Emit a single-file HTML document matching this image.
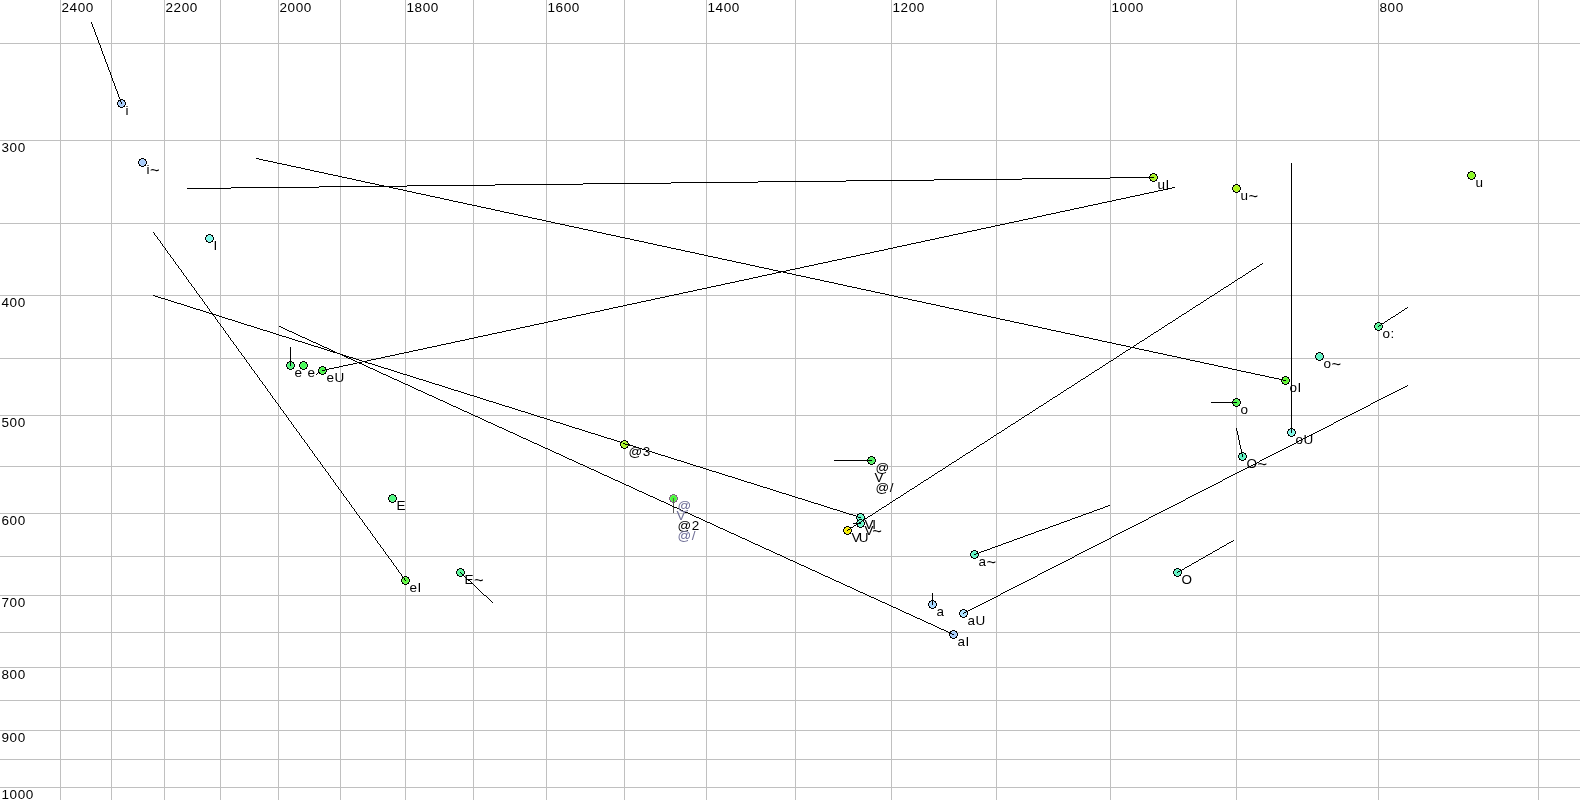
<!DOCTYPE html>
<html><head><meta charset="utf-8"><style>html,body{margin:0;padding:0;background:#fff;overflow:hidden}svg{display:block;position:absolute;left:0;top:0}#t{will-change:transform}</style></head>
<body>
<svg width="1580" height="800" viewBox="0 0 1580 800">
<rect width="1580" height="800" fill="#fff"/>
<path d="M60.5 0V800 M111.5 0V800 M164.5 0V800 M220.5 0V800 M278.5 0V800 M340.5 0V800 M405.5 0V800 M473.5 0V800 M546.5 0V800 M624.5 0V800 M706.5 0V800 M795.5 0V800 M891.5 0V800 M996.5 0V800 M1110.5 0V800 M1236.5 0V800 M1378.5 0V800 M1538.5 0V800 M0 43.5H1580 M0 140.5H1580 M0 223.5H1580 M0 295.5H1580 M0 358.5H1580 M0 415.5H1580 M0 466.5H1580 M0 513.5H1580 M0 556.5H1580 M0 595.5H1580 M0 632.5H1580 M0 667.5H1580 M0 700.5H1580 M0 730.5H1580 M0 759.5H1580 M0 787.5H1580" stroke="#c0c0c0" stroke-width="1" fill="none" stroke-linecap="square" shape-rendering="crispEdges"/>
<path d="M153 295h2v1h-2zM155 296h3v1h-3zM158 297h3v1h-3zM161 298h4v1h-4zM165 299h3v1h-3zM168 300h3v1h-3zM171 301h3v1h-3zM174 302h3v1h-3zM177 303h4v1h-4zM181 304h3v1h-3zM184 305h3v1h-3zM187 306h3v1h-3zM190 307h3v1h-3zM193 308h3v1h-3zM196 309h4v1h-4zM200 310h3v1h-3zM203 311h3v1h-3zM206 312h3v1h-3zM209 313h3v1h-3zM212 314h4v1h-4zM216 315h3v1h-3zM219 316h3v1h-3zM222 317h3v1h-3zM225 318h3v1h-3zM228 319h4v1h-4zM232 320h3v1h-3zM235 321h3v1h-3zM238 322h3v1h-3zM241 323h3v1h-3zM244 324h3v1h-3zM247 325h4v1h-4zM251 326h3v1h-3zM254 327h3v1h-3zM257 328h3v1h-3zM260 329h3v1h-3zM263 330h4v1h-4zM267 331h3v1h-3zM270 332h3v1h-3zM273 333h3v1h-3zM276 334h3v1h-3zM279 335h3v1h-3zM282 336h4v1h-4zM286 337h3v1h-3zM289 338h3v1h-3zM292 339h3v1h-3zM295 340h3v1h-3zM298 341h4v1h-4zM302 342h3v1h-3zM305 343h3v1h-3zM308 344h3v1h-3zM311 345h3v1h-3zM314 346h4v1h-4zM318 347h3v1h-3zM321 348h3v1h-3zM324 349h3v1h-3zM327 350h3v1h-3zM330 351h3v1h-3zM333 352h4v1h-4zM337 353h3v1h-3zM340 354h3v1h-3zM343 355h3v1h-3zM346 356h3v1h-3zM349 357h4v1h-4zM353 358h3v1h-3zM356 359h3v1h-3zM359 360h3v1h-3zM362 361h3v1h-3zM365 362h3v1h-3zM368 363h4v1h-4zM372 364h3v1h-3zM375 365h3v1h-3zM378 366h3v1h-3zM381 367h3v1h-3zM384 368h4v1h-4zM388 369h3v1h-3zM391 370h3v1h-3zM394 371h3v1h-3zM397 372h3v1h-3zM400 373h3v1h-3zM403 374h4v1h-4zM407 375h3v1h-3zM410 376h3v1h-3zM413 377h3v1h-3zM416 378h3v1h-3zM419 379h4v1h-4zM423 380h3v1h-3zM426 381h3v1h-3zM429 382h3v1h-3zM432 383h3v1h-3zM435 384h4v1h-4zM439 385h3v1h-3zM442 386h3v1h-3zM445 387h3v1h-3zM448 388h3v1h-3zM451 389h3v1h-3zM454 390h4v1h-4zM458 391h3v1h-3zM461 392h3v1h-3zM464 393h3v1h-3zM467 394h3v1h-3zM470 395h4v1h-4zM474 396h3v1h-3zM477 397h3v1h-3zM480 398h3v1h-3zM483 399h3v1h-3zM486 400h3v1h-3zM489 401h4v1h-4zM493 402h3v1h-3zM496 403h3v1h-3zM499 404h3v1h-3zM502 405h3v1h-3zM505 406h4v1h-4zM509 407h3v1h-3zM512 408h3v1h-3zM515 409h3v1h-3zM518 410h3v1h-3zM521 411h4v1h-4zM525 412h3v1h-3zM528 413h3v1h-3zM531 414h3v1h-3zM534 415h3v1h-3zM537 416h3v1h-3zM540 417h4v1h-4zM544 418h3v1h-3zM547 419h3v1h-3zM550 420h3v1h-3zM553 421h3v1h-3zM556 422h4v1h-4zM560 423h3v1h-3zM563 424h3v1h-3zM566 425h3v1h-3zM569 426h3v1h-3zM572 427h3v1h-3zM575 428h4v1h-4zM579 429h3v1h-3zM582 430h3v1h-3zM585 431h3v1h-3zM588 432h3v1h-3zM591 433h4v1h-4zM595 434h3v1h-3zM598 435h3v1h-3zM601 436h3v1h-3zM604 437h3v1h-3zM607 438h4v1h-4zM611 439h3v1h-3zM614 440h3v1h-3zM617 441h3v1h-3zM620 442h3v1h-3zM623 443h3v1h-3zM626 444h4v1h-4zM630 445h3v1h-3zM633 446h3v1h-3zM636 447h3v1h-3zM639 448h3v1h-3zM642 449h4v1h-4zM646 450h3v1h-3zM649 451h3v1h-3zM652 452h3v1h-3zM655 453h3v1h-3zM658 454h3v1h-3zM661 455h4v1h-4zM665 456h3v1h-3zM668 457h3v1h-3zM671 458h3v1h-3zM674 459h3v1h-3zM677 460h4v1h-4zM681 461h3v1h-3zM684 462h3v1h-3zM687 463h3v1h-3zM690 464h3v1h-3zM693 465h3v1h-3zM696 466h4v1h-4zM700 467h3v1h-3zM703 468h3v1h-3zM706 469h3v1h-3zM709 470h3v1h-3zM712 471h4v1h-4zM716 472h3v1h-3zM719 473h3v1h-3zM722 474h3v1h-3zM725 475h3v1h-3zM728 476h4v1h-4zM732 477h3v1h-3zM735 478h3v1h-3zM738 479h3v1h-3zM741 480h3v1h-3zM744 481h3v1h-3zM747 482h4v1h-4zM751 483h3v1h-3zM754 484h3v1h-3zM757 485h3v1h-3zM760 486h3v1h-3zM763 487h4v1h-4zM767 488h3v1h-3zM770 489h3v1h-3zM773 490h3v1h-3zM776 491h3v1h-3zM779 492h3v1h-3zM782 493h4v1h-4zM786 494h3v1h-3zM789 495h3v1h-3zM792 496h3v1h-3zM795 497h3v1h-3zM798 498h4v1h-4zM802 499h3v1h-3zM805 500h3v1h-3zM808 501h3v1h-3zM811 502h3v1h-3zM814 503h4v1h-4zM818 504h3v1h-3zM821 505h3v1h-3zM824 506h3v1h-3zM827 507h3v1h-3zM830 508h3v1h-3zM833 509h4v1h-4zM837 510h3v1h-3zM840 511h3v1h-3zM843 512h3v1h-3zM846 513h3v1h-3zM849 514h4v1h-4zM853 515h3v1h-3zM856 516h3v1h-3zM859 517h2v1h-2z" fill="#000" shape-rendering="crispEdges"/>
<defs><path id="ol" d="M3 0h3v1h-3zM1 1h2v1h-2zM6 1h2v1h-2zM1 2h1v1h-1zM7 2h1v1h-1zM0 3h1v3h-1zM8 3h1v3h-1zM1 6h1v1h-1zM7 6h1v1h-1zM1 7h2v1h-2zM6 7h2v1h-2zM3 8h3v1h-3z"/><path id="rg" d="M3 1h3v1h-3zM2 2h1v1h-1zM6 2h1v1h-1zM1 3h1v3h-1zM7 3h1v3h-1zM2 6h1v1h-1zM6 6h1v1h-1zM3 7h3v1h-3z"/><path id="co" d="M3 2h3v1h1v3h-1v1h-3v-1h-1v-3h1z"/></defs>
<g shape-rendering="crispEdges"><g transform="translate(117 99)"><use href="#co" fill="#a8ccfa"/><use href="#rg" fill="#b6d4fb"/><use href="#ol" fill="#000"/></g><g transform="translate(138 158)"><use href="#co" fill="#a8ccfa"/><use href="#rg" fill="#b6d4fb"/><use href="#ol" fill="#000"/></g><g transform="translate(205 234)"><use href="#co" fill="#80f8e8"/><use href="#rg" fill="#94f9ec"/><use href="#ol" fill="#000"/></g><g transform="translate(286 361)"><use href="#co" fill="#50f578"/><use href="#rg" fill="#6cf78e"/><use href="#ol" fill="#000"/></g><g transform="translate(299 361)"><use href="#co" fill="#48fa58"/><use href="#rg" fill="#65fb73"/><use href="#ol" fill="#000"/></g><g transform="translate(318 366)"><use href="#co" fill="#48f848"/><use href="#rg" fill="#65f965"/><use href="#ol" fill="#000"/></g><g transform="translate(388 494)"><use href="#co" fill="#50fa82"/><use href="#rg" fill="#6cfb96"/><use href="#ol" fill="#000"/></g><g transform="translate(401 576)"><use href="#co" fill="#60f840"/><use href="#rg" fill="#79f95f"/><use href="#ol" fill="#000"/></g><g transform="translate(456 568)"><use href="#co" fill="#58f898"/><use href="#rg" fill="#73f9a8"/><use href="#ol" fill="#000"/></g><g transform="translate(620 440)"><use href="#co" fill="#a8f428"/><use href="#rg" fill="#b6f64a"/><use href="#ol" fill="#000"/></g><g transform="translate(669 494)"><use href="#co" fill="#48f838"/><use href="#rg" fill="#65f958"/><use href="#ol" fill="#806480"/></g><g transform="translate(867 456)"><use href="#co" fill="#50f060"/><use href="#rg" fill="#6cf279"/><use href="#ol" fill="#000"/></g><g transform="translate(843 526)"><use href="#co" fill="#f8f000"/><use href="#rg" fill="#f9f229"/><use href="#ol" fill="#000"/></g><g transform="translate(856 513)"><use href="#co" fill="#68f8c8"/><use href="#rg" fill="#80f9d1"/><use href="#ol" fill="#000"/></g><g transform="translate(856 519)"><use href="#co" fill="#68f8c8"/><use href="#rg" fill="#80f9d1"/><use href="#ol" fill="#000"/></g><g transform="translate(928 600)"><use href="#co" fill="#a8d8ff"/><use href="#rg" fill="#b6deff"/><use href="#ol" fill="#000"/></g><g transform="translate(949 630)"><use href="#co" fill="#a8ccfa"/><use href="#rg" fill="#b6d4fb"/><use href="#ol" fill="#000"/></g><g transform="translate(959 609)"><use href="#co" fill="#a8e0ff"/><use href="#rg" fill="#b6e5ff"/><use href="#ol" fill="#000"/></g><g transform="translate(970 550)"><use href="#co" fill="#60f4c4"/><use href="#rg" fill="#79f6cd"/><use href="#ol" fill="#000"/></g><g transform="translate(1149 173)"><use href="#co" fill="#a8f420"/><use href="#rg" fill="#b6f644"/><use href="#ol" fill="#000"/></g><g transform="translate(1173 568)"><use href="#co" fill="#60f4c4"/><use href="#rg" fill="#79f6cd"/><use href="#ol" fill="#000"/></g><g transform="translate(1232 184)"><use href="#co" fill="#acf418"/><use href="#rg" fill="#b9f63d"/><use href="#ol" fill="#000"/></g><g transform="translate(1232 398)"><use href="#co" fill="#50f850"/><use href="#rg" fill="#6cf96c"/><use href="#ol" fill="#000"/></g><g transform="translate(1238 452)"><use href="#co" fill="#60f4c4"/><use href="#rg" fill="#79f6cd"/><use href="#ol" fill="#000"/></g><g transform="translate(1281 376)"><use href="#co" fill="#60f830"/><use href="#rg" fill="#79f951"/><use href="#ol" fill="#000"/></g><g transform="translate(1287 428)"><use href="#co" fill="#80f8e8"/><use href="#rg" fill="#94f9ec"/><use href="#ol" fill="#000"/></g><g transform="translate(1315 352)"><use href="#co" fill="#60f4c4"/><use href="#rg" fill="#79f6cd"/><use href="#ol" fill="#000"/></g><g transform="translate(1374 322)"><use href="#co" fill="#58f898"/><use href="#rg" fill="#73f9a8"/><use href="#ol" fill="#000"/></g><g transform="translate(1467 171)"><use href="#co" fill="#8cf824"/><use href="#rg" fill="#9ef947"/><use href="#ol" fill="#000"/></g></g>
<path d="M673 498h1v1h-1zM673 499h1v1h-1zM673 500h1v1h-1zM673 501h1v1h-1zM673 502h1v1h-1zM673 503h1v1h-1zM673 504h1v1h-1zM673 505h1v1h-1zM673 506h1v1h-1zM673 507h1v1h-1zM673 508h1v1h-1zM673 509h1v1h-1zM673 510h1v1h-1zM673 511h1v1h-1zM673 512h1v1h-1z" fill="#585858" shape-rendering="crispEdges"/>
<path d="M91 22h1v1h-1zM91 23h1v1h-1zM92 24h1v1h-1zM92 25h1v1h-1zM92 26h1v1h-1zM93 27h1v1h-1zM93 28h1v1h-1zM94 29h1v1h-1zM94 30h1v1h-1zM94 31h1v1h-1zM95 32h1v1h-1zM95 33h1v1h-1zM95 34h1v1h-1zM96 35h1v1h-1zM96 36h1v1h-1zM97 37h1v1h-1zM97 38h1v1h-1zM97 39h1v1h-1zM98 40h1v1h-1zM98 41h1v1h-1zM98 42h1v1h-1zM99 43h1v1h-1zM99 44h1v1h-1zM100 45h1v1h-1zM100 46h1v1h-1zM100 47h1v1h-1zM101 48h1v1h-1zM101 49h1v1h-1zM101 50h1v1h-1zM102 51h1v1h-1zM102 52h1v1h-1zM102 53h1v1h-1zM103 54h1v1h-1zM103 55h1v1h-1zM104 56h1v1h-1zM104 57h1v1h-1zM104 58h1v1h-1zM105 59h1v1h-1zM105 60h1v1h-1zM105 61h1v1h-1zM106 62h1v1h-1zM106 63h1v1h-1zM107 64h1v1h-1zM107 65h1v1h-1zM107 66h1v1h-1zM108 67h1v1h-1zM108 68h1v1h-1zM108 69h1v1h-1zM109 70h1v1h-1zM109 71h1v1h-1zM110 72h1v1h-1zM110 73h1v1h-1zM110 74h1v1h-1zM111 75h1v1h-1zM111 76h1v1h-1zM111 77h1v1h-1zM112 78h1v1h-1zM112 79h1v1h-1zM112 80h1v1h-1zM113 81h1v1h-1zM113 82h1v1h-1zM114 83h1v1h-1zM114 84h1v1h-1zM114 85h1v1h-1zM115 86h1v1h-1zM115 87h1v1h-1zM115 88h1v1h-1zM116 89h1v1h-1zM116 90h1v1h-1zM117 91h1v1h-1zM117 92h1v1h-1zM117 93h1v1h-1zM118 94h1v1h-1zM118 95h1v1h-1zM118 96h1v1h-1zM119 97h1v1h-1zM119 98h1v1h-1zM120 99h1v1h-1zM120 100h1v1h-1zM120 101h1v1h-1zM121 102h1v1h-1zM121 103h1v1h-1zM290 347h1v1h-1zM290 348h1v1h-1zM290 349h1v1h-1zM290 350h1v1h-1zM290 351h1v1h-1zM290 352h1v1h-1zM290 353h1v1h-1zM290 354h1v1h-1zM290 355h1v1h-1zM290 356h1v1h-1zM290 357h1v1h-1zM290 358h1v1h-1zM290 359h1v1h-1zM290 360h1v1h-1zM290 361h1v1h-1zM290 362h1v1h-1zM290 363h1v1h-1zM290 364h1v1h-1zM290 365h1v1h-1zM1172 187h3v1h-3zM1168 188h4v1h-4zM1163 189h5v1h-5zM1158 190h5v1h-5zM1154 191h4v1h-4zM1149 192h5v1h-5zM1144 193h5v1h-5zM1140 194h4v1h-4zM1135 195h5v1h-5zM1130 196h5v1h-5zM1126 197h4v1h-4zM1121 198h5v1h-5zM1116 199h5v1h-5zM1112 200h4v1h-4zM1107 201h5v1h-5zM1102 202h5v1h-5zM1098 203h4v1h-4zM1093 204h5v1h-5zM1088 205h5v1h-5zM1084 206h4v1h-4zM1079 207h5v1h-5zM1074 208h5v1h-5zM1070 209h4v1h-4zM1065 210h5v1h-5zM1060 211h5v1h-5zM1056 212h4v1h-4zM1051 213h5v1h-5zM1046 214h5v1h-5zM1042 215h4v1h-4zM1037 216h5v1h-5zM1033 217h4v1h-4zM1028 218h5v1h-5zM1023 219h5v1h-5zM1019 220h4v1h-4zM1014 221h5v1h-5zM1009 222h5v1h-5zM1005 223h4v1h-4zM1000 224h5v1h-5zM995 225h5v1h-5zM991 226h4v1h-4zM986 227h5v1h-5zM981 228h5v1h-5zM977 229h4v1h-4zM972 230h5v1h-5zM967 231h5v1h-5zM963 232h4v1h-4zM958 233h5v1h-5zM953 234h5v1h-5zM949 235h4v1h-4zM944 236h5v1h-5zM939 237h5v1h-5zM935 238h4v1h-4zM930 239h5v1h-5zM925 240h5v1h-5zM921 241h4v1h-4zM916 242h5v1h-5zM911 243h5v1h-5zM907 244h4v1h-4zM902 245h5v1h-5zM897 246h5v1h-5zM893 247h4v1h-4zM888 248h5v1h-5zM884 249h4v1h-4zM879 250h5v1h-5zM874 251h5v1h-5zM870 252h4v1h-4zM865 253h5v1h-5zM860 254h5v1h-5zM856 255h4v1h-4zM851 256h5v1h-5zM846 257h5v1h-5zM842 258h4v1h-4zM837 259h5v1h-5zM832 260h5v1h-5zM828 261h4v1h-4zM823 262h5v1h-5zM818 263h5v1h-5zM814 264h4v1h-4zM809 265h5v1h-5zM804 266h5v1h-5zM800 267h4v1h-4zM795 268h5v1h-5zM790 269h5v1h-5zM786 270h4v1h-4zM781 271h5v1h-5zM776 272h5v1h-5zM772 273h4v1h-4zM767 274h5v1h-5zM762 275h5v1h-5zM758 276h4v1h-4zM753 277h5v1h-5zM749 278h4v1h-4zM744 279h5v1h-5zM739 280h5v1h-5zM735 281h4v1h-4zM730 282h5v1h-5zM725 283h5v1h-5zM721 284h4v1h-4zM716 285h5v1h-5zM711 286h5v1h-5zM707 287h4v1h-4zM702 288h5v1h-5zM697 289h5v1h-5zM693 290h4v1h-4zM688 291h5v1h-5zM683 292h5v1h-5zM679 293h4v1h-4zM674 294h5v1h-5zM669 295h5v1h-5zM665 296h4v1h-4zM660 297h5v1h-5zM655 298h5v1h-5zM651 299h4v1h-4zM646 300h5v1h-5zM641 301h5v1h-5zM637 302h4v1h-4zM632 303h5v1h-5zM627 304h5v1h-5zM623 305h4v1h-4zM618 306h5v1h-5zM613 307h5v1h-5zM609 308h4v1h-4zM604 309h5v1h-5zM600 310h4v1h-4zM595 311h5v1h-5zM590 312h5v1h-5zM586 313h4v1h-4zM581 314h5v1h-5zM576 315h5v1h-5zM572 316h4v1h-4zM567 317h5v1h-5zM562 318h5v1h-5zM558 319h4v1h-4zM553 320h5v1h-5zM548 321h5v1h-5zM544 322h4v1h-4zM539 323h5v1h-5zM534 324h5v1h-5zM530 325h4v1h-4zM525 326h5v1h-5zM520 327h5v1h-5zM516 328h4v1h-4zM511 329h5v1h-5zM506 330h5v1h-5zM502 331h4v1h-4zM497 332h5v1h-5zM492 333h5v1h-5zM488 334h4v1h-4zM483 335h5v1h-5zM478 336h5v1h-5zM474 337h4v1h-4zM469 338h5v1h-5zM465 339h4v1h-4zM460 340h5v1h-5zM455 341h5v1h-5zM451 342h4v1h-4zM446 343h5v1h-5zM441 344h5v1h-5zM437 345h4v1h-4zM432 346h5v1h-5zM427 347h5v1h-5zM423 348h4v1h-4zM418 349h5v1h-5zM413 350h5v1h-5zM409 351h4v1h-4zM404 352h5v1h-5zM399 353h5v1h-5zM395 354h4v1h-4zM390 355h5v1h-5zM385 356h5v1h-5zM381 357h4v1h-4zM376 358h5v1h-5zM371 359h5v1h-5zM367 360h4v1h-4zM362 361h5v1h-5zM357 362h5v1h-5zM353 363h4v1h-4zM348 364h5v1h-5zM343 365h5v1h-5zM339 366h4v1h-4zM334 367h5v1h-5zM329 368h5v1h-5zM325 369h4v1h-4zM322 370h3v1h-3zM318 372h1v1h-1zM317 373h1v1h-1zM316 374h1v1h-1zM153 232h1v1h-1zM154 233h1v1h-1zM154 234h1v1h-1zM155 235h1v1h-1zM156 236h1v1h-1zM157 237h1v1h-1zM157 238h1v1h-1zM158 239h1v1h-1zM159 240h1v1h-1zM160 241h1v1h-1zM160 242h1v1h-1zM161 243h1v1h-1zM162 244h1v1h-1zM162 245h1v1h-1zM163 246h1v1h-1zM164 247h1v1h-1zM165 248h1v1h-1zM165 249h1v1h-1zM166 250h1v1h-1zM167 251h1v1h-1zM167 252h1v1h-1zM168 253h1v1h-1zM169 254h1v1h-1zM170 255h1v1h-1zM170 256h1v1h-1zM171 257h1v1h-1zM172 258h1v1h-1zM173 259h1v1h-1zM173 260h1v1h-1zM174 261h1v1h-1zM175 262h1v1h-1zM175 263h1v1h-1zM176 264h1v1h-1zM177 265h1v1h-1zM178 266h1v1h-1zM178 267h1v1h-1zM179 268h1v1h-1zM180 269h1v1h-1zM181 270h1v1h-1zM181 271h1v1h-1zM182 272h1v1h-1zM183 273h1v1h-1zM183 274h1v1h-1zM184 275h1v1h-1zM185 276h1v1h-1zM186 277h1v1h-1zM186 278h1v1h-1zM187 279h1v1h-1zM188 280h1v1h-1zM188 281h1v1h-1zM189 282h1v1h-1zM190 283h1v1h-1zM191 284h1v1h-1zM191 285h1v1h-1zM192 286h1v1h-1zM193 287h1v1h-1zM194 288h1v1h-1zM194 289h1v1h-1zM195 290h1v1h-1zM196 291h1v1h-1zM196 292h1v1h-1zM197 293h1v1h-1zM198 294h1v1h-1zM199 295h1v1h-1zM199 296h1v1h-1zM200 297h1v1h-1zM201 298h1v1h-1zM202 299h1v1h-1zM202 300h1v1h-1zM203 301h1v1h-1zM204 302h1v1h-1zM204 303h1v1h-1zM205 304h1v1h-1zM206 305h1v1h-1zM207 306h1v1h-1zM207 307h1v1h-1zM208 308h1v1h-1zM209 309h1v1h-1zM209 310h1v1h-1zM210 311h1v1h-1zM211 312h1v1h-1zM212 313h1v1h-1zM212 314h1v1h-1zM213 315h1v1h-1zM214 316h1v1h-1zM215 317h1v1h-1zM215 318h1v1h-1zM216 319h1v1h-1zM217 320h1v1h-1zM217 321h1v1h-1zM218 322h1v1h-1zM219 323h1v1h-1zM220 324h1v1h-1zM220 325h1v1h-1zM221 326h1v1h-1zM222 327h1v1h-1zM223 328h1v1h-1zM223 329h1v1h-1zM224 330h1v1h-1zM225 331h1v1h-1zM225 332h1v1h-1zM226 333h1v1h-1zM227 334h1v1h-1zM228 335h1v1h-1zM228 336h1v1h-1zM229 337h1v1h-1zM230 338h1v1h-1zM230 339h1v1h-1zM231 340h1v1h-1zM232 341h1v1h-1zM233 342h1v1h-1zM233 343h1v1h-1zM234 344h1v1h-1zM235 345h1v1h-1zM236 346h1v1h-1zM236 347h1v1h-1zM237 348h1v1h-1zM238 349h1v1h-1zM238 350h1v1h-1zM239 351h1v1h-1zM240 352h1v1h-1zM241 353h1v1h-1zM241 354h1v1h-1zM242 355h1v1h-1zM243 356h1v1h-1zM244 357h1v1h-1zM244 358h1v1h-1zM245 359h1v1h-1zM246 360h1v1h-1zM246 361h1v1h-1zM247 362h1v1h-1zM248 363h1v1h-1zM249 364h1v1h-1zM249 365h1v1h-1zM250 366h1v1h-1zM251 367h1v1h-1zM251 368h1v1h-1zM252 369h1v1h-1zM253 370h1v1h-1zM254 371h1v1h-1zM254 372h1v1h-1zM255 373h1v1h-1zM256 374h1v1h-1zM257 375h1v1h-1zM257 376h1v1h-1zM258 377h1v1h-1zM259 378h1v1h-1zM259 379h1v1h-1zM260 380h1v1h-1zM261 381h1v1h-1zM262 382h1v1h-1zM262 383h1v1h-1zM263 384h1v1h-1zM264 385h1v1h-1zM265 386h1v1h-1zM265 387h1v1h-1zM266 388h1v1h-1zM267 389h1v1h-1zM267 390h1v1h-1zM268 391h1v1h-1zM269 392h1v1h-1zM270 393h1v1h-1zM270 394h1v1h-1zM271 395h1v1h-1zM272 396h1v1h-1zM272 397h1v1h-1zM273 398h1v1h-1zM274 399h1v1h-1zM275 400h1v1h-1zM275 401h1v1h-1zM276 402h1v1h-1zM277 403h1v1h-1zM278 404h1v1h-1zM278 405h1v1h-1zM279 406h1v1h-1zM280 407h1v1h-1zM280 408h1v1h-1zM281 409h1v1h-1zM282 410h1v1h-1zM283 411h1v1h-1zM283 412h1v1h-1zM284 413h1v1h-1zM285 414h1v1h-1zM286 415h1v1h-1zM286 416h1v1h-1zM287 417h1v1h-1zM288 418h1v1h-1zM288 419h1v1h-1zM289 420h1v1h-1zM290 421h1v1h-1zM291 422h1v1h-1zM291 423h1v1h-1zM292 424h1v1h-1zM293 425h1v1h-1zM293 426h1v1h-1zM294 427h1v1h-1zM295 428h1v1h-1zM296 429h1v1h-1zM296 430h1v1h-1zM297 431h1v1h-1zM298 432h1v1h-1zM299 433h1v1h-1zM299 434h1v1h-1zM300 435h1v1h-1zM301 436h1v1h-1zM301 437h1v1h-1zM302 438h1v1h-1zM303 439h1v1h-1zM304 440h1v1h-1zM304 441h1v1h-1zM305 442h1v1h-1zM306 443h1v1h-1zM307 444h1v1h-1zM307 445h1v1h-1zM308 446h1v1h-1zM309 447h1v1h-1zM309 448h1v1h-1zM310 449h1v1h-1zM311 450h1v1h-1zM312 451h1v1h-1zM312 452h1v1h-1zM313 453h1v1h-1zM314 454h1v1h-1zM314 455h1v1h-1zM315 456h1v1h-1zM316 457h1v1h-1zM317 458h1v1h-1zM317 459h1v1h-1zM318 460h1v1h-1zM319 461h1v1h-1zM320 462h1v1h-1zM320 463h1v1h-1zM321 464h1v1h-1zM322 465h1v1h-1zM322 466h1v1h-1zM323 467h1v1h-1zM324 468h1v1h-1zM325 469h1v1h-1zM325 470h1v1h-1zM326 471h1v1h-1zM327 472h1v1h-1zM328 473h1v1h-1zM328 474h1v1h-1zM329 475h1v1h-1zM330 476h1v1h-1zM330 477h1v1h-1zM331 478h1v1h-1zM332 479h1v1h-1zM333 480h1v1h-1zM333 481h1v1h-1zM334 482h1v1h-1zM335 483h1v1h-1zM335 484h1v1h-1zM336 485h1v1h-1zM337 486h1v1h-1zM338 487h1v1h-1zM338 488h1v1h-1zM339 489h1v1h-1zM340 490h1v1h-1zM341 491h1v1h-1zM341 492h1v1h-1zM342 493h1v1h-1zM343 494h1v1h-1zM343 495h1v1h-1zM344 496h1v1h-1zM345 497h1v1h-1zM346 498h1v1h-1zM346 499h1v1h-1zM347 500h1v1h-1zM348 501h1v1h-1zM349 502h1v1h-1zM349 503h1v1h-1zM350 504h1v1h-1zM351 505h1v1h-1zM351 506h1v1h-1zM352 507h1v1h-1zM353 508h1v1h-1zM354 509h1v1h-1zM354 510h1v1h-1zM355 511h1v1h-1zM356 512h1v1h-1zM356 513h1v1h-1zM357 514h1v1h-1zM358 515h1v1h-1zM359 516h1v1h-1zM359 517h1v1h-1zM360 518h1v1h-1zM361 519h1v1h-1zM362 520h1v1h-1zM362 521h1v1h-1zM363 522h1v1h-1zM364 523h1v1h-1zM364 524h1v1h-1zM365 525h1v1h-1zM366 526h1v1h-1zM367 527h1v1h-1zM367 528h1v1h-1zM368 529h1v1h-1zM369 530h1v1h-1zM370 531h1v1h-1zM370 532h1v1h-1zM371 533h1v1h-1zM372 534h1v1h-1zM372 535h1v1h-1zM373 536h1v1h-1zM374 537h1v1h-1zM375 538h1v1h-1zM375 539h1v1h-1zM376 540h1v1h-1zM377 541h1v1h-1zM377 542h1v1h-1zM378 543h1v1h-1zM379 544h1v1h-1zM380 545h1v1h-1zM380 546h1v1h-1zM381 547h1v1h-1zM382 548h1v1h-1zM383 549h1v1h-1zM383 550h1v1h-1zM384 551h1v1h-1zM385 552h1v1h-1zM385 553h1v1h-1zM386 554h1v1h-1zM387 555h1v1h-1zM388 556h1v1h-1zM388 557h1v1h-1zM389 558h1v1h-1zM390 559h1v1h-1zM391 560h1v1h-1zM391 561h1v1h-1zM392 562h1v1h-1zM393 563h1v1h-1zM393 564h1v1h-1zM394 565h1v1h-1zM395 566h1v1h-1zM396 567h1v1h-1zM396 568h1v1h-1zM397 569h1v1h-1zM398 570h1v1h-1zM398 571h1v1h-1zM399 572h1v1h-1zM400 573h1v1h-1zM401 574h1v1h-1zM401 575h1v1h-1zM402 576h1v1h-1zM403 577h1v1h-1zM404 578h1v1h-1zM404 579h1v1h-1zM405 580h1v1h-1zM460 572h1v1h-1zM461 573h1v1h-1zM462 574h1v1h-1zM463 575h1v1h-1zM464 576h1v1h-1zM465 577h1v1h-1zM466 578h1v1h-1zM467 579h1v1h-1zM468 580h2v1h-2zM470 581h1v1h-1zM471 582h1v1h-1zM472 583h1v1h-1zM473 584h1v1h-1zM474 585h1v1h-1zM475 586h1v1h-1zM476 587h1v1h-1zM477 588h1v1h-1zM478 589h1v1h-1zM479 590h1v1h-1zM480 591h1v1h-1zM481 592h1v1h-1zM482 593h1v1h-1zM483 594h1v1h-1zM484 595h2v1h-2zM486 596h1v1h-1zM487 597h1v1h-1zM488 598h1v1h-1zM489 599h1v1h-1zM490 600h1v1h-1zM491 601h1v1h-1zM492 602h1v1h-1zM834 460h38v1h-38zM856 516h2v1h-2zM858 517h3v1h-3zM623 443h2v1h-2zM625 444h4v1h-4zM629 445h2v1h-2zM853 523h8v1h-8zM1262 263h1v1h-1zM1260 264h2v1h-2zM1259 265h1v1h-1zM1257 266h2v1h-2zM1256 267h1v1h-1zM1254 268h2v1h-2zM1252 269h2v1h-2zM1251 270h1v1h-1zM1249 271h2v1h-2zM1248 272h1v1h-1zM1246 273h2v1h-2zM1245 274h1v1h-1zM1243 275h2v1h-2zM1242 276h1v1h-1zM1240 277h2v1h-2zM1238 278h2v1h-2zM1237 279h1v1h-1zM1235 280h2v1h-2zM1234 281h1v1h-1zM1232 282h2v1h-2zM1231 283h1v1h-1zM1229 284h2v1h-2zM1228 285h1v1h-1zM1226 286h2v1h-2zM1224 287h2v1h-2zM1223 288h1v1h-1zM1221 289h2v1h-2zM1220 290h1v1h-1zM1218 291h2v1h-2zM1217 292h1v1h-1zM1215 293h2v1h-2zM1214 294h1v1h-1zM1212 295h2v1h-2zM1210 296h2v1h-2zM1209 297h1v1h-1zM1207 298h2v1h-2zM1206 299h1v1h-1zM1204 300h2v1h-2zM1203 301h1v1h-1zM1201 302h2v1h-2zM1200 303h1v1h-1zM1198 304h2v1h-2zM1196 305h2v1h-2zM1195 306h1v1h-1zM1193 307h2v1h-2zM1192 308h1v1h-1zM1190 309h2v1h-2zM1189 310h1v1h-1zM1187 311h2v1h-2zM1186 312h1v1h-1zM1184 313h2v1h-2zM1182 314h2v1h-2zM1181 315h1v1h-1zM1179 316h2v1h-2zM1178 317h1v1h-1zM1176 318h2v1h-2zM1175 319h1v1h-1zM1173 320h2v1h-2zM1172 321h1v1h-1zM1170 322h2v1h-2zM1168 323h2v1h-2zM1167 324h1v1h-1zM1165 325h2v1h-2zM1164 326h1v1h-1zM1162 327h2v1h-2zM1161 328h1v1h-1zM1159 329h2v1h-2zM1158 330h1v1h-1zM1156 331h2v1h-2zM1154 332h2v1h-2zM1153 333h1v1h-1zM1151 334h2v1h-2zM1150 335h1v1h-1zM1148 336h2v1h-2zM1147 337h1v1h-1zM1145 338h2v1h-2zM1144 339h1v1h-1zM1142 340h2v1h-2zM1140 341h2v1h-2zM1139 342h1v1h-1zM1137 343h2v1h-2zM1136 344h1v1h-1zM1134 345h2v1h-2zM1133 346h1v1h-1zM1131 347h2v1h-2zM1130 348h1v1h-1zM1128 349h2v1h-2zM1126 350h2v1h-2zM1125 351h1v1h-1zM1123 352h2v1h-2zM1122 353h1v1h-1zM1120 354h2v1h-2zM1119 355h1v1h-1zM1117 356h2v1h-2zM1116 357h1v1h-1zM1114 358h2v1h-2zM1113 359h1v1h-1zM1111 360h2v1h-2zM1109 361h2v1h-2zM1108 362h1v1h-1zM1106 363h2v1h-2zM1105 364h1v1h-1zM1103 365h2v1h-2zM1102 366h1v1h-1zM1100 367h2v1h-2zM1099 368h1v1h-1zM1097 369h2v1h-2zM1095 370h2v1h-2zM1094 371h1v1h-1zM1092 372h2v1h-2zM1091 373h1v1h-1zM1089 374h2v1h-2zM1088 375h1v1h-1zM1086 376h2v1h-2zM1085 377h1v1h-1zM1083 378h2v1h-2zM1081 379h2v1h-2zM1080 380h1v1h-1zM1078 381h2v1h-2zM1077 382h1v1h-1zM1075 383h2v1h-2zM1074 384h1v1h-1zM1072 385h2v1h-2zM1071 386h1v1h-1zM1069 387h2v1h-2zM1067 388h2v1h-2zM1066 389h1v1h-1zM1064 390h2v1h-2zM1063 391h1v1h-1zM1061 392h2v1h-2zM1060 393h1v1h-1zM1058 394h2v1h-2zM1057 395h1v1h-1zM1055 396h2v1h-2zM1053 397h2v1h-2zM1052 398h1v1h-1zM1050 399h2v1h-2zM1049 400h1v1h-1zM1047 401h2v1h-2zM1046 402h1v1h-1zM1044 403h2v1h-2zM1043 404h1v1h-1zM1041 405h2v1h-2zM1039 406h2v1h-2zM1038 407h1v1h-1zM1036 408h2v1h-2zM1035 409h1v1h-1zM1033 410h2v1h-2zM1032 411h1v1h-1zM1030 412h2v1h-2zM1029 413h1v1h-1zM1027 414h2v1h-2zM1025 415h2v1h-2zM1024 416h1v1h-1zM1022 417h2v1h-2zM1021 418h1v1h-1zM1019 419h2v1h-2zM1018 420h1v1h-1zM1016 421h2v1h-2zM1015 422h1v1h-1zM1013 423h2v1h-2zM1011 424h2v1h-2zM1010 425h1v1h-1zM1008 426h2v1h-2zM1007 427h1v1h-1zM1005 428h2v1h-2zM1004 429h1v1h-1zM1002 430h2v1h-2zM1001 431h1v1h-1zM999 432h2v1h-2zM997 433h2v1h-2zM996 434h1v1h-1zM994 435h2v1h-2zM993 436h1v1h-1zM991 437h2v1h-2zM990 438h1v1h-1zM988 439h2v1h-2zM987 440h1v1h-1zM985 441h2v1h-2zM984 442h1v1h-1zM982 443h2v1h-2zM980 444h2v1h-2zM979 445h1v1h-1zM977 446h2v1h-2zM976 447h1v1h-1zM974 448h2v1h-2zM973 449h1v1h-1zM971 450h2v1h-2zM970 451h1v1h-1zM968 452h2v1h-2zM966 453h2v1h-2zM965 454h1v1h-1zM963 455h2v1h-2zM962 456h1v1h-1zM960 457h2v1h-2zM959 458h1v1h-1zM957 459h2v1h-2zM956 460h1v1h-1zM954 461h2v1h-2zM952 462h2v1h-2zM951 463h1v1h-1zM949 464h2v1h-2zM948 465h1v1h-1zM946 466h2v1h-2zM945 467h1v1h-1zM943 468h2v1h-2zM942 469h1v1h-1zM940 470h2v1h-2zM938 471h2v1h-2zM937 472h1v1h-1zM935 473h2v1h-2zM934 474h1v1h-1zM932 475h2v1h-2zM931 476h1v1h-1zM929 477h2v1h-2zM928 478h1v1h-1zM926 479h2v1h-2zM924 480h2v1h-2zM923 481h1v1h-1zM921 482h2v1h-2zM920 483h1v1h-1zM918 484h2v1h-2zM917 485h1v1h-1zM915 486h2v1h-2zM914 487h1v1h-1zM912 488h2v1h-2zM910 489h2v1h-2zM909 490h1v1h-1zM907 491h2v1h-2zM906 492h1v1h-1zM904 493h2v1h-2zM903 494h1v1h-1zM901 495h2v1h-2zM900 496h1v1h-1zM898 497h2v1h-2zM896 498h2v1h-2zM895 499h1v1h-1zM893 500h2v1h-2zM892 501h1v1h-1zM890 502h2v1h-2zM889 503h1v1h-1zM887 504h2v1h-2zM886 505h1v1h-1zM884 506h2v1h-2zM882 507h2v1h-2zM881 508h1v1h-1zM879 509h2v1h-2zM878 510h1v1h-1zM876 511h2v1h-2zM875 512h1v1h-1zM873 513h2v1h-2zM872 514h1v1h-1zM870 515h2v1h-2zM868 516h2v1h-2zM867 517h1v1h-1zM865 518h2v1h-2zM864 519h1v1h-1zM862 520h2v1h-2zM861 521h1v1h-1zM859 522h2v1h-2zM858 523h1v1h-1zM856 524h2v1h-2zM854 525h2v1h-2zM853 526h1v1h-1zM851 527h2v1h-2zM850 528h1v1h-1zM848 529h2v1h-2zM847 530h1v1h-1zM932 593h1v1h-1zM932 594h1v1h-1zM932 595h1v1h-1zM932 596h1v1h-1zM932 597h1v1h-1zM932 598h1v1h-1zM932 599h1v1h-1zM932 600h1v1h-1zM932 601h1v1h-1zM932 602h1v1h-1zM932 603h1v1h-1zM932 604h1v1h-1zM279 326h2v1h-2zM281 327h2v1h-2zM283 328h2v1h-2zM285 329h2v1h-2zM287 330h2v1h-2zM289 331h3v1h-3zM292 332h2v1h-2zM294 333h2v1h-2zM296 334h2v1h-2zM298 335h2v1h-2zM300 336h2v1h-2zM302 337h3v1h-3zM305 338h2v1h-2zM307 339h2v1h-2zM309 340h2v1h-2zM311 341h2v1h-2zM313 342h3v1h-3zM316 343h2v1h-2zM318 344h2v1h-2zM320 345h2v1h-2zM322 346h2v1h-2zM324 347h3v1h-3zM327 348h2v1h-2zM329 349h2v1h-2zM331 350h2v1h-2zM333 351h2v1h-2zM335 352h2v1h-2zM337 353h3v1h-3zM340 354h2v1h-2zM342 355h2v1h-2zM344 356h2v1h-2zM346 357h2v1h-2zM348 358h3v1h-3zM351 359h2v1h-2zM353 360h2v1h-2zM355 361h2v1h-2zM357 362h2v1h-2zM359 363h3v1h-3zM362 364h2v1h-2zM364 365h2v1h-2zM366 366h2v1h-2zM368 367h2v1h-2zM370 368h3v1h-3zM373 369h2v1h-2zM375 370h2v1h-2zM377 371h2v1h-2zM379 372h2v1h-2zM381 373h2v1h-2zM383 374h3v1h-3zM386 375h2v1h-2zM388 376h2v1h-2zM390 377h2v1h-2zM392 378h2v1h-2zM394 379h3v1h-3zM397 380h2v1h-2zM399 381h2v1h-2zM401 382h2v1h-2zM403 383h2v1h-2zM405 384h3v1h-3zM408 385h2v1h-2zM410 386h2v1h-2zM412 387h2v1h-2zM414 388h2v1h-2zM416 389h2v1h-2zM418 390h3v1h-3zM421 391h2v1h-2zM423 392h2v1h-2zM425 393h2v1h-2zM427 394h2v1h-2zM429 395h3v1h-3zM432 396h2v1h-2zM434 397h2v1h-2zM436 398h2v1h-2zM438 399h2v1h-2zM440 400h3v1h-3zM443 401h2v1h-2zM445 402h2v1h-2zM447 403h2v1h-2zM449 404h2v1h-2zM451 405h2v1h-2zM453 406h3v1h-3zM456 407h2v1h-2zM458 408h2v1h-2zM460 409h2v1h-2zM462 410h2v1h-2zM464 411h3v1h-3zM467 412h2v1h-2zM469 413h2v1h-2zM471 414h2v1h-2zM473 415h2v1h-2zM475 416h3v1h-3zM478 417h2v1h-2zM480 418h2v1h-2zM482 419h2v1h-2zM484 420h2v1h-2zM486 421h2v1h-2zM488 422h3v1h-3zM491 423h2v1h-2zM493 424h2v1h-2zM495 425h2v1h-2zM497 426h2v1h-2zM499 427h3v1h-3zM502 428h2v1h-2zM504 429h2v1h-2zM506 430h2v1h-2zM508 431h2v1h-2zM510 432h3v1h-3zM513 433h2v1h-2zM515 434h2v1h-2zM517 435h2v1h-2zM519 436h2v1h-2zM521 437h2v1h-2zM523 438h3v1h-3zM526 439h2v1h-2zM528 440h2v1h-2zM530 441h2v1h-2zM532 442h2v1h-2zM534 443h3v1h-3zM537 444h2v1h-2zM539 445h2v1h-2zM541 446h2v1h-2zM543 447h2v1h-2zM545 448h3v1h-3zM548 449h2v1h-2zM550 450h2v1h-2zM552 451h2v1h-2zM554 452h2v1h-2zM556 453h3v1h-3zM559 454h2v1h-2zM561 455h2v1h-2zM563 456h2v1h-2zM565 457h2v1h-2zM567 458h2v1h-2zM569 459h3v1h-3zM572 460h2v1h-2zM574 461h2v1h-2zM576 462h2v1h-2zM578 463h2v1h-2zM580 464h3v1h-3zM583 465h2v1h-2zM585 466h2v1h-2zM587 467h2v1h-2zM589 468h2v1h-2zM591 469h3v1h-3zM594 470h2v1h-2zM596 471h2v1h-2zM598 472h2v1h-2zM600 473h2v1h-2zM602 474h2v1h-2zM604 475h3v1h-3zM607 476h2v1h-2zM609 477h2v1h-2zM611 478h2v1h-2zM613 479h2v1h-2zM615 480h3v1h-3zM618 481h2v1h-2zM620 482h2v1h-2zM622 483h2v1h-2zM624 484h2v1h-2zM626 485h3v1h-3zM629 486h2v1h-2zM631 487h2v1h-2zM633 488h2v1h-2zM635 489h2v1h-2zM637 490h2v1h-2zM639 491h3v1h-3zM642 492h2v1h-2zM644 493h2v1h-2zM646 494h2v1h-2zM648 495h2v1h-2zM650 496h3v1h-3zM653 497h2v1h-2zM655 498h2v1h-2zM657 499h2v1h-2zM659 500h2v1h-2zM661 501h3v1h-3zM664 502h2v1h-2zM666 503h2v1h-2zM668 504h2v1h-2zM670 505h2v1h-2zM672 506h2v1h-2zM674 507h3v1h-3zM677 508h2v1h-2zM679 509h2v1h-2zM681 510h2v1h-2zM683 511h2v1h-2zM685 512h3v1h-3zM688 513h2v1h-2zM690 514h2v1h-2zM692 515h2v1h-2zM694 516h2v1h-2zM696 517h3v1h-3zM699 518h2v1h-2zM701 519h2v1h-2zM703 520h2v1h-2zM705 521h2v1h-2zM707 522h3v1h-3zM710 523h2v1h-2zM712 524h2v1h-2zM714 525h2v1h-2zM716 526h2v1h-2zM718 527h2v1h-2zM720 528h3v1h-3zM723 529h2v1h-2zM725 530h2v1h-2zM727 531h2v1h-2zM729 532h2v1h-2zM731 533h3v1h-3zM734 534h2v1h-2zM736 535h2v1h-2zM738 536h2v1h-2zM740 537h2v1h-2zM742 538h3v1h-3zM745 539h2v1h-2zM747 540h2v1h-2zM749 541h2v1h-2zM751 542h2v1h-2zM753 543h2v1h-2zM755 544h3v1h-3zM758 545h2v1h-2zM760 546h2v1h-2zM762 547h2v1h-2zM764 548h2v1h-2zM766 549h3v1h-3zM769 550h2v1h-2zM771 551h2v1h-2zM773 552h2v1h-2zM775 553h2v1h-2zM777 554h3v1h-3zM780 555h2v1h-2zM782 556h2v1h-2zM784 557h2v1h-2zM786 558h2v1h-2zM788 559h2v1h-2zM790 560h3v1h-3zM793 561h2v1h-2zM795 562h2v1h-2zM797 563h2v1h-2zM799 564h2v1h-2zM801 565h3v1h-3zM804 566h2v1h-2zM806 567h2v1h-2zM808 568h2v1h-2zM810 569h2v1h-2zM812 570h3v1h-3zM815 571h2v1h-2zM817 572h2v1h-2zM819 573h2v1h-2zM821 574h2v1h-2zM823 575h2v1h-2zM825 576h3v1h-3zM828 577h2v1h-2zM830 578h2v1h-2zM832 579h2v1h-2zM834 580h2v1h-2zM836 581h3v1h-3zM839 582h2v1h-2zM841 583h2v1h-2zM843 584h2v1h-2zM845 585h2v1h-2zM847 586h3v1h-3zM850 587h2v1h-2zM852 588h2v1h-2zM854 589h2v1h-2zM856 590h2v1h-2zM858 591h2v1h-2zM860 592h3v1h-3zM863 593h2v1h-2zM865 594h2v1h-2zM867 595h2v1h-2zM869 596h2v1h-2zM871 597h3v1h-3zM874 598h2v1h-2zM876 599h2v1h-2zM878 600h2v1h-2zM880 601h2v1h-2zM882 602h3v1h-3zM885 603h2v1h-2zM887 604h2v1h-2zM889 605h2v1h-2zM891 606h2v1h-2zM893 607h3v1h-3zM896 608h2v1h-2zM898 609h2v1h-2zM900 610h2v1h-2zM902 611h2v1h-2zM904 612h2v1h-2zM906 613h3v1h-3zM909 614h2v1h-2zM911 615h2v1h-2zM913 616h2v1h-2zM915 617h2v1h-2zM917 618h3v1h-3zM920 619h2v1h-2zM922 620h2v1h-2zM924 621h2v1h-2zM926 622h2v1h-2zM928 623h3v1h-3zM931 624h2v1h-2zM933 625h2v1h-2zM935 626h2v1h-2zM937 627h2v1h-2zM939 628h2v1h-2zM941 629h3v1h-3zM944 630h2v1h-2zM946 631h2v1h-2zM948 632h2v1h-2zM950 633h2v1h-2zM952 634h2v1h-2zM1407 385h1v1h-1zM1405 386h2v1h-2zM1403 387h2v1h-2zM1401 388h2v1h-2zM1399 389h2v1h-2zM1397 390h2v1h-2zM1395 391h2v1h-2zM1393 392h2v1h-2zM1391 393h2v1h-2zM1389 394h2v1h-2zM1387 395h2v1h-2zM1385 396h2v1h-2zM1383 397h2v1h-2zM1381 398h2v1h-2zM1379 399h2v1h-2zM1377 400h2v1h-2zM1375 401h2v1h-2zM1373 402h2v1h-2zM1371 403h2v1h-2zM1370 404h1v1h-1zM1368 405h2v1h-2zM1366 406h2v1h-2zM1364 407h2v1h-2zM1362 408h2v1h-2zM1360 409h2v1h-2zM1358 410h2v1h-2zM1356 411h2v1h-2zM1354 412h2v1h-2zM1352 413h2v1h-2zM1350 414h2v1h-2zM1348 415h2v1h-2zM1346 416h2v1h-2zM1344 417h2v1h-2zM1342 418h2v1h-2zM1340 419h2v1h-2zM1338 420h2v1h-2zM1336 421h2v1h-2zM1334 422h2v1h-2zM1333 423h1v1h-1zM1331 424h2v1h-2zM1329 425h2v1h-2zM1327 426h2v1h-2zM1325 427h2v1h-2zM1323 428h2v1h-2zM1321 429h2v1h-2zM1319 430h2v1h-2zM1317 431h2v1h-2zM1315 432h2v1h-2zM1313 433h2v1h-2zM1311 434h2v1h-2zM1309 435h2v1h-2zM1307 436h2v1h-2zM1305 437h2v1h-2zM1303 438h2v1h-2zM1301 439h2v1h-2zM1299 440h2v1h-2zM1297 441h2v1h-2zM1296 442h1v1h-1zM1294 443h2v1h-2zM1292 444h2v1h-2zM1290 445h2v1h-2zM1288 446h2v1h-2zM1286 447h2v1h-2zM1284 448h2v1h-2zM1282 449h2v1h-2zM1280 450h2v1h-2zM1278 451h2v1h-2zM1276 452h2v1h-2zM1274 453h2v1h-2zM1272 454h2v1h-2zM1270 455h2v1h-2zM1268 456h2v1h-2zM1266 457h2v1h-2zM1264 458h2v1h-2zM1262 459h2v1h-2zM1260 460h2v1h-2zM1259 461h1v1h-1zM1257 462h2v1h-2zM1255 463h2v1h-2zM1253 464h2v1h-2zM1251 465h2v1h-2zM1249 466h2v1h-2zM1247 467h2v1h-2zM1245 468h2v1h-2zM1243 469h2v1h-2zM1241 470h2v1h-2zM1239 471h2v1h-2zM1237 472h2v1h-2zM1235 473h2v1h-2zM1233 474h2v1h-2zM1231 475h2v1h-2zM1229 476h2v1h-2zM1227 477h2v1h-2zM1225 478h2v1h-2zM1223 479h2v1h-2zM1222 480h1v1h-1zM1220 481h2v1h-2zM1218 482h2v1h-2zM1216 483h2v1h-2zM1214 484h2v1h-2zM1212 485h2v1h-2zM1210 486h2v1h-2zM1208 487h2v1h-2zM1206 488h2v1h-2zM1204 489h2v1h-2zM1202 490h2v1h-2zM1200 491h2v1h-2zM1198 492h2v1h-2zM1196 493h2v1h-2zM1194 494h2v1h-2zM1192 495h2v1h-2zM1190 496h2v1h-2zM1188 497h2v1h-2zM1186 498h2v1h-2zM1185 499h1v1h-1zM1183 500h2v1h-2zM1181 501h2v1h-2zM1179 502h2v1h-2zM1177 503h2v1h-2zM1175 504h2v1h-2zM1173 505h2v1h-2zM1171 506h2v1h-2zM1169 507h2v1h-2zM1167 508h2v1h-2zM1165 509h2v1h-2zM1163 510h2v1h-2zM1161 511h2v1h-2zM1159 512h2v1h-2zM1157 513h2v1h-2zM1155 514h2v1h-2zM1153 515h2v1h-2zM1151 516h2v1h-2zM1149 517h2v1h-2zM1148 518h1v1h-1zM1146 519h2v1h-2zM1144 520h2v1h-2zM1142 521h2v1h-2zM1140 522h2v1h-2zM1138 523h2v1h-2zM1136 524h2v1h-2zM1134 525h2v1h-2zM1132 526h2v1h-2zM1130 527h2v1h-2zM1128 528h2v1h-2zM1126 529h2v1h-2zM1124 530h2v1h-2zM1122 531h2v1h-2zM1120 532h2v1h-2zM1118 533h2v1h-2zM1116 534h2v1h-2zM1114 535h2v1h-2zM1112 536h2v1h-2zM1111 537h1v1h-1zM1109 538h2v1h-2zM1107 539h2v1h-2zM1105 540h2v1h-2zM1103 541h2v1h-2zM1101 542h2v1h-2zM1099 543h2v1h-2zM1097 544h2v1h-2zM1095 545h2v1h-2zM1093 546h2v1h-2zM1091 547h2v1h-2zM1089 548h2v1h-2zM1087 549h2v1h-2zM1085 550h2v1h-2zM1083 551h2v1h-2zM1081 552h2v1h-2zM1079 553h2v1h-2zM1077 554h2v1h-2zM1075 555h2v1h-2zM1074 556h1v1h-1zM1072 557h2v1h-2zM1070 558h2v1h-2zM1068 559h2v1h-2zM1066 560h2v1h-2zM1064 561h2v1h-2zM1062 562h2v1h-2zM1060 563h2v1h-2zM1058 564h2v1h-2zM1056 565h2v1h-2zM1054 566h2v1h-2zM1052 567h2v1h-2zM1050 568h2v1h-2zM1048 569h2v1h-2zM1046 570h2v1h-2zM1044 571h2v1h-2zM1042 572h2v1h-2zM1040 573h2v1h-2zM1038 574h2v1h-2zM1037 575h1v1h-1zM1035 576h2v1h-2zM1033 577h2v1h-2zM1031 578h2v1h-2zM1029 579h2v1h-2zM1027 580h2v1h-2zM1025 581h2v1h-2zM1023 582h2v1h-2zM1021 583h2v1h-2zM1019 584h2v1h-2zM1017 585h2v1h-2zM1015 586h2v1h-2zM1013 587h2v1h-2zM1011 588h2v1h-2zM1009 589h2v1h-2zM1007 590h2v1h-2zM1005 591h2v1h-2zM1003 592h2v1h-2zM1001 593h2v1h-2zM1000 594h1v1h-1zM998 595h2v1h-2zM996 596h2v1h-2zM994 597h2v1h-2zM992 598h2v1h-2zM990 599h2v1h-2zM988 600h2v1h-2zM986 601h2v1h-2zM984 602h2v1h-2zM982 603h2v1h-2zM980 604h2v1h-2zM978 605h2v1h-2zM976 606h2v1h-2zM974 607h2v1h-2zM972 608h2v1h-2zM970 609h2v1h-2zM968 610h2v1h-2zM966 611h2v1h-2zM964 612h2v1h-2zM963 613h1v1h-1zM1108 505h2v1h-2zM1105 506h3v1h-3zM1103 507h2v1h-2zM1100 508h3v1h-3zM1097 509h3v1h-3zM1094 510h3v1h-3zM1092 511h2v1h-2zM1089 512h3v1h-3zM1086 513h3v1h-3zM1083 514h3v1h-3zM1081 515h2v1h-2zM1078 516h3v1h-3zM1075 517h3v1h-3zM1072 518h3v1h-3zM1070 519h2v1h-2zM1067 520h3v1h-3zM1064 521h3v1h-3zM1061 522h3v1h-3zM1059 523h2v1h-2zM1056 524h3v1h-3zM1053 525h3v1h-3zM1050 526h3v1h-3zM1048 527h2v1h-2zM1045 528h3v1h-3zM1042 529h3v1h-3zM1039 530h3v1h-3zM1036 531h3v1h-3zM1034 532h2v1h-2zM1031 533h3v1h-3zM1028 534h3v1h-3zM1025 535h3v1h-3zM1023 536h2v1h-2zM1020 537h3v1h-3zM1017 538h3v1h-3zM1014 539h3v1h-3zM1012 540h2v1h-2zM1009 541h3v1h-3zM1006 542h3v1h-3zM1003 543h3v1h-3zM1001 544h2v1h-2zM998 545h3v1h-3zM995 546h3v1h-3zM992 547h3v1h-3zM990 548h2v1h-2zM987 549h3v1h-3zM984 550h3v1h-3zM981 551h3v1h-3zM979 552h2v1h-2zM976 553h3v1h-3zM974 554h2v1h-2zM1110 177h44v1h-44zM1022 178h88v1h-88zM934 179h88v1h-88zM846 180h88v1h-88zM758 181h88v1h-88zM671 182h87v1h-87zM583 183h88v1h-88zM495 184h88v1h-88zM407 185h88v1h-88zM319 186h88v1h-88zM231 187h88v1h-88zM187 188h44v1h-44zM1233 540h1v1h-1zM1231 541h2v1h-2zM1229 542h2v1h-2zM1227 543h2v1h-2zM1226 544h1v1h-1zM1224 545h2v1h-2zM1222 546h2v1h-2zM1220 547h2v1h-2zM1219 548h1v1h-1zM1217 549h2v1h-2zM1215 550h2v1h-2zM1213 551h2v1h-2zM1212 552h1v1h-1zM1210 553h2v1h-2zM1208 554h2v1h-2zM1206 555h2v1h-2zM1205 556h1v1h-1zM1203 557h2v1h-2zM1201 558h2v1h-2zM1199 559h2v1h-2zM1198 560h1v1h-1zM1196 561h2v1h-2zM1194 562h2v1h-2zM1192 563h2v1h-2zM1191 564h1v1h-1zM1189 565h2v1h-2zM1187 566h2v1h-2zM1185 567h2v1h-2zM1184 568h1v1h-1zM1182 569h2v1h-2zM1180 570h2v1h-2zM1178 571h2v1h-2zM1177 572h1v1h-1zM1211 402h26v1h-26zM1236 428h1v1h-1zM1236 429h1v1h-1zM1236 430h1v1h-1zM1237 431h1v1h-1zM1237 432h1v1h-1zM1237 433h1v1h-1zM1237 434h1v1h-1zM1238 435h1v1h-1zM1238 436h1v1h-1zM1238 437h1v1h-1zM1238 438h1v1h-1zM1238 439h1v1h-1zM1239 440h1v1h-1zM1239 441h1v1h-1zM1239 442h1v1h-1zM1239 443h1v1h-1zM1239 444h1v1h-1zM1240 445h1v1h-1zM1240 446h1v1h-1zM1240 447h1v1h-1zM1240 448h1v1h-1zM1241 449h1v1h-1zM1241 450h1v1h-1zM1241 451h1v1h-1zM1241 452h1v1h-1zM1241 453h1v1h-1zM1242 454h1v1h-1zM1242 455h1v1h-1zM1242 456h1v1h-1zM256 158h3v1h-3zM259 159h4v1h-4zM263 160h5v1h-5zM268 161h5v1h-5zM273 162h4v1h-4zM277 163h5v1h-5zM282 164h5v1h-5zM287 165h4v1h-4zM291 166h5v1h-5zM296 167h5v1h-5zM301 168h4v1h-4zM305 169h5v1h-5zM310 170h4v1h-4zM314 171h5v1h-5zM319 172h5v1h-5zM324 173h4v1h-4zM328 174h5v1h-5zM333 175h5v1h-5zM338 176h4v1h-4zM342 177h5v1h-5zM347 178h5v1h-5zM352 179h4v1h-4zM356 180h5v1h-5zM361 181h4v1h-4zM365 182h5v1h-5zM370 183h5v1h-5zM375 184h4v1h-4zM379 185h5v1h-5zM384 186h5v1h-5zM389 187h4v1h-4zM393 188h5v1h-5zM398 189h5v1h-5zM403 190h4v1h-4zM407 191h5v1h-5zM412 192h4v1h-4zM416 193h5v1h-5zM421 194h5v1h-5zM426 195h4v1h-4zM430 196h5v1h-5zM435 197h5v1h-5zM440 198h4v1h-4zM444 199h5v1h-5zM449 200h4v1h-4zM453 201h5v1h-5zM458 202h5v1h-5zM463 203h4v1h-4zM467 204h5v1h-5zM472 205h5v1h-5zM477 206h4v1h-4zM481 207h5v1h-5zM486 208h5v1h-5zM491 209h4v1h-4zM495 210h5v1h-5zM500 211h4v1h-4zM504 212h5v1h-5zM509 213h5v1h-5zM514 214h4v1h-4zM518 215h5v1h-5zM523 216h5v1h-5zM528 217h4v1h-4zM532 218h5v1h-5zM537 219h5v1h-5zM542 220h4v1h-4zM546 221h5v1h-5zM551 222h4v1h-4zM555 223h5v1h-5zM560 224h5v1h-5zM565 225h4v1h-4zM569 226h5v1h-5zM574 227h5v1h-5zM579 228h4v1h-4zM583 229h5v1h-5zM588 230h5v1h-5zM593 231h4v1h-4zM597 232h5v1h-5zM602 233h4v1h-4zM606 234h5v1h-5zM611 235h5v1h-5zM616 236h4v1h-4zM620 237h5v1h-5zM625 238h5v1h-5zM630 239h4v1h-4zM634 240h5v1h-5zM639 241h5v1h-5zM644 242h4v1h-4zM648 243h5v1h-5zM653 244h4v1h-4zM657 245h5v1h-5zM662 246h5v1h-5zM667 247h4v1h-4zM671 248h5v1h-5zM676 249h5v1h-5zM681 250h4v1h-4zM685 251h5v1h-5zM690 252h5v1h-5zM695 253h4v1h-4zM699 254h5v1h-5zM704 255h4v1h-4zM708 256h5v1h-5zM713 257h5v1h-5zM718 258h4v1h-4zM722 259h5v1h-5zM727 260h5v1h-5zM732 261h4v1h-4zM736 262h5v1h-5zM741 263h5v1h-5zM746 264h4v1h-4zM750 265h5v1h-5zM755 266h4v1h-4zM759 267h5v1h-5zM764 268h5v1h-5zM769 269h4v1h-4zM773 270h5v1h-5zM778 271h5v1h-5zM783 272h4v1h-4zM787 273h5v1h-5zM792 274h4v1h-4zM796 275h5v1h-5zM801 276h5v1h-5zM806 277h4v1h-4zM810 278h5v1h-5zM815 279h5v1h-5zM820 280h4v1h-4zM824 281h5v1h-5zM829 282h5v1h-5zM834 283h4v1h-4zM838 284h5v1h-5zM843 285h4v1h-4zM847 286h5v1h-5zM852 287h5v1h-5zM857 288h4v1h-4zM861 289h5v1h-5zM866 290h5v1h-5zM871 291h4v1h-4zM875 292h5v1h-5zM880 293h5v1h-5zM885 294h4v1h-4zM889 295h5v1h-5zM894 296h4v1h-4zM898 297h5v1h-5zM903 298h5v1h-5zM908 299h4v1h-4zM912 300h5v1h-5zM917 301h5v1h-5zM922 302h4v1h-4zM926 303h5v1h-5zM931 304h5v1h-5zM936 305h4v1h-4zM940 306h5v1h-5zM945 307h4v1h-4zM949 308h5v1h-5zM954 309h5v1h-5zM959 310h4v1h-4zM963 311h5v1h-5zM968 312h5v1h-5zM973 313h4v1h-4zM977 314h5v1h-5zM982 315h5v1h-5zM987 316h4v1h-4zM991 317h5v1h-5zM996 318h4v1h-4zM1000 319h5v1h-5zM1005 320h5v1h-5zM1010 321h4v1h-4zM1014 322h5v1h-5zM1019 323h5v1h-5zM1024 324h4v1h-4zM1028 325h5v1h-5zM1033 326h5v1h-5zM1038 327h4v1h-4zM1042 328h5v1h-5zM1047 329h4v1h-4zM1051 330h5v1h-5zM1056 331h5v1h-5zM1061 332h4v1h-4zM1065 333h5v1h-5zM1070 334h5v1h-5zM1075 335h4v1h-4zM1079 336h5v1h-5zM1084 337h5v1h-5zM1089 338h4v1h-4zM1093 339h5v1h-5zM1098 340h4v1h-4zM1102 341h5v1h-5zM1107 342h5v1h-5zM1112 343h4v1h-4zM1116 344h5v1h-5zM1121 345h5v1h-5zM1126 346h4v1h-4zM1130 347h5v1h-5zM1135 348h4v1h-4zM1139 349h5v1h-5zM1144 350h5v1h-5zM1149 351h4v1h-4zM1153 352h5v1h-5zM1158 353h5v1h-5zM1163 354h4v1h-4zM1167 355h5v1h-5zM1172 356h5v1h-5zM1177 357h4v1h-4zM1181 358h5v1h-5zM1186 359h4v1h-4zM1190 360h5v1h-5zM1195 361h5v1h-5zM1200 362h4v1h-4zM1204 363h5v1h-5zM1209 364h5v1h-5zM1214 365h4v1h-4zM1218 366h5v1h-5zM1223 367h5v1h-5zM1228 368h4v1h-4zM1232 369h5v1h-5zM1237 370h4v1h-4zM1241 371h5v1h-5zM1246 372h5v1h-5zM1251 373h4v1h-4zM1255 374h5v1h-5zM1260 375h5v1h-5zM1265 376h4v1h-4zM1269 377h5v1h-5zM1274 378h5v1h-5zM1279 379h4v1h-4zM1283 380h3v1h-3zM1291 163h1v1h-1zM1291 164h1v1h-1zM1291 165h1v1h-1zM1291 166h1v1h-1zM1291 167h1v1h-1zM1291 168h1v1h-1zM1291 169h1v1h-1zM1291 170h1v1h-1zM1291 171h1v1h-1zM1291 172h1v1h-1zM1291 173h1v1h-1zM1291 174h1v1h-1zM1291 175h1v1h-1zM1291 176h1v1h-1zM1291 177h1v1h-1zM1291 178h1v1h-1zM1291 179h1v1h-1zM1291 180h1v1h-1zM1291 181h1v1h-1zM1291 182h1v1h-1zM1291 183h1v1h-1zM1291 184h1v1h-1zM1291 185h1v1h-1zM1291 186h1v1h-1zM1291 187h1v1h-1zM1291 188h1v1h-1zM1291 189h1v1h-1zM1291 190h1v1h-1zM1291 191h1v1h-1zM1291 192h1v1h-1zM1291 193h1v1h-1zM1291 194h1v1h-1zM1291 195h1v1h-1zM1291 196h1v1h-1zM1291 197h1v1h-1zM1291 198h1v1h-1zM1291 199h1v1h-1zM1291 200h1v1h-1zM1291 201h1v1h-1zM1291 202h1v1h-1zM1291 203h1v1h-1zM1291 204h1v1h-1zM1291 205h1v1h-1zM1291 206h1v1h-1zM1291 207h1v1h-1zM1291 208h1v1h-1zM1291 209h1v1h-1zM1291 210h1v1h-1zM1291 211h1v1h-1zM1291 212h1v1h-1zM1291 213h1v1h-1zM1291 214h1v1h-1zM1291 215h1v1h-1zM1291 216h1v1h-1zM1291 217h1v1h-1zM1291 218h1v1h-1zM1291 219h1v1h-1zM1291 220h1v1h-1zM1291 221h1v1h-1zM1291 222h1v1h-1zM1291 223h1v1h-1zM1291 224h1v1h-1zM1291 225h1v1h-1zM1291 226h1v1h-1zM1291 227h1v1h-1zM1291 228h1v1h-1zM1291 229h1v1h-1zM1291 230h1v1h-1zM1291 231h1v1h-1zM1291 232h1v1h-1zM1291 233h1v1h-1zM1291 234h1v1h-1zM1291 235h1v1h-1zM1291 236h1v1h-1zM1291 237h1v1h-1zM1291 238h1v1h-1zM1291 239h1v1h-1zM1291 240h1v1h-1zM1291 241h1v1h-1zM1291 242h1v1h-1zM1291 243h1v1h-1zM1291 244h1v1h-1zM1291 245h1v1h-1zM1291 246h1v1h-1zM1291 247h1v1h-1zM1291 248h1v1h-1zM1291 249h1v1h-1zM1291 250h1v1h-1zM1291 251h1v1h-1zM1291 252h1v1h-1zM1291 253h1v1h-1zM1291 254h1v1h-1zM1291 255h1v1h-1zM1291 256h1v1h-1zM1291 257h1v1h-1zM1291 258h1v1h-1zM1291 259h1v1h-1zM1291 260h1v1h-1zM1291 261h1v1h-1zM1291 262h1v1h-1zM1291 263h1v1h-1zM1291 264h1v1h-1zM1291 265h1v1h-1zM1291 266h1v1h-1zM1291 267h1v1h-1zM1291 268h1v1h-1zM1291 269h1v1h-1zM1291 270h1v1h-1zM1291 271h1v1h-1zM1291 272h1v1h-1zM1291 273h1v1h-1zM1291 274h1v1h-1zM1291 275h1v1h-1zM1291 276h1v1h-1zM1291 277h1v1h-1zM1291 278h1v1h-1zM1291 279h1v1h-1zM1291 280h1v1h-1zM1291 281h1v1h-1zM1291 282h1v1h-1zM1291 283h1v1h-1zM1291 284h1v1h-1zM1291 285h1v1h-1zM1291 286h1v1h-1zM1291 287h1v1h-1zM1291 288h1v1h-1zM1291 289h1v1h-1zM1291 290h1v1h-1zM1291 291h1v1h-1zM1291 292h1v1h-1zM1291 293h1v1h-1zM1291 294h1v1h-1zM1291 295h1v1h-1zM1291 296h1v1h-1zM1291 297h1v1h-1zM1291 298h1v1h-1zM1291 299h1v1h-1zM1291 300h1v1h-1zM1291 301h1v1h-1zM1291 302h1v1h-1zM1291 303h1v1h-1zM1291 304h1v1h-1zM1291 305h1v1h-1zM1291 306h1v1h-1zM1291 307h1v1h-1zM1291 308h1v1h-1zM1291 309h1v1h-1zM1291 310h1v1h-1zM1291 311h1v1h-1zM1291 312h1v1h-1zM1291 313h1v1h-1zM1291 314h1v1h-1zM1291 315h1v1h-1zM1291 316h1v1h-1zM1291 317h1v1h-1zM1291 318h1v1h-1zM1291 319h1v1h-1zM1291 320h1v1h-1zM1291 321h1v1h-1zM1291 322h1v1h-1zM1291 323h1v1h-1zM1291 324h1v1h-1zM1291 325h1v1h-1zM1291 326h1v1h-1zM1291 327h1v1h-1zM1291 328h1v1h-1zM1291 329h1v1h-1zM1291 330h1v1h-1zM1291 331h1v1h-1zM1291 332h1v1h-1zM1291 333h1v1h-1zM1291 334h1v1h-1zM1291 335h1v1h-1zM1291 336h1v1h-1zM1291 337h1v1h-1zM1291 338h1v1h-1zM1291 339h1v1h-1zM1291 340h1v1h-1zM1291 341h1v1h-1zM1291 342h1v1h-1zM1291 343h1v1h-1zM1291 344h1v1h-1zM1291 345h1v1h-1zM1291 346h1v1h-1zM1291 347h1v1h-1zM1291 348h1v1h-1zM1291 349h1v1h-1zM1291 350h1v1h-1zM1291 351h1v1h-1zM1291 352h1v1h-1zM1291 353h1v1h-1zM1291 354h1v1h-1zM1291 355h1v1h-1zM1291 356h1v1h-1zM1291 357h1v1h-1zM1291 358h1v1h-1zM1291 359h1v1h-1zM1291 360h1v1h-1zM1291 361h1v1h-1zM1291 362h1v1h-1zM1291 363h1v1h-1zM1291 364h1v1h-1zM1291 365h1v1h-1zM1291 366h1v1h-1zM1291 367h1v1h-1zM1291 368h1v1h-1zM1291 369h1v1h-1zM1291 370h1v1h-1zM1291 371h1v1h-1zM1291 372h1v1h-1zM1291 373h1v1h-1zM1291 374h1v1h-1zM1291 375h1v1h-1zM1291 376h1v1h-1zM1291 377h1v1h-1zM1291 378h1v1h-1zM1291 379h1v1h-1zM1291 380h1v1h-1zM1291 381h1v1h-1zM1291 382h1v1h-1zM1291 383h1v1h-1zM1291 384h1v1h-1zM1291 385h1v1h-1zM1291 386h1v1h-1zM1291 387h1v1h-1zM1291 388h1v1h-1zM1291 389h1v1h-1zM1291 390h1v1h-1zM1291 391h1v1h-1zM1291 392h1v1h-1zM1291 393h1v1h-1zM1291 394h1v1h-1zM1291 395h1v1h-1zM1291 396h1v1h-1zM1291 397h1v1h-1zM1291 398h1v1h-1zM1291 399h1v1h-1zM1291 400h1v1h-1zM1291 401h1v1h-1zM1291 402h1v1h-1zM1291 403h1v1h-1zM1291 404h1v1h-1zM1291 405h1v1h-1zM1291 406h1v1h-1zM1291 407h1v1h-1zM1291 408h1v1h-1zM1291 409h1v1h-1zM1291 410h1v1h-1zM1291 411h1v1h-1zM1291 412h1v1h-1zM1291 413h1v1h-1zM1291 414h1v1h-1zM1291 415h1v1h-1zM1291 416h1v1h-1zM1291 417h1v1h-1zM1291 418h1v1h-1zM1291 419h1v1h-1zM1291 420h1v1h-1zM1291 421h1v1h-1zM1291 422h1v1h-1zM1291 423h1v1h-1zM1291 424h1v1h-1zM1291 425h1v1h-1zM1291 426h1v1h-1zM1291 427h1v1h-1zM1291 428h1v1h-1zM1291 429h1v1h-1zM1291 430h1v1h-1zM1291 431h1v1h-1zM1291 432h1v1h-1zM1407 307h1v1h-1zM1405 308h2v1h-2zM1404 309h1v1h-1zM1402 310h2v1h-2zM1401 311h1v1h-1zM1399 312h2v1h-2zM1398 313h1v1h-1zM1396 314h2v1h-2zM1395 315h1v1h-1zM1393 316h2v1h-2zM1391 317h2v1h-2zM1390 318h1v1h-1zM1388 319h2v1h-2zM1387 320h1v1h-1zM1385 321h2v1h-2zM1384 322h1v1h-1zM1382 323h2v1h-2zM1381 324h1v1h-1zM1379 325h2v1h-2zM1378 326h1v1h-1z" fill="#000" shape-rendering="crispEdges"/>
</svg>
<svg id="t" width="1580" height="800" viewBox="0 0 1580 800"><g font-family='"Liberation Sans", sans-serif' font-size="13.5" letter-spacing="0.6" fill="#000"><text x="61.5" y="12">2400</text><text x="165.5" y="12">2200</text><text x="279.5" y="12">2000</text><text x="406.5" y="12">1800</text><text x="547.5" y="12">1600</text><text x="707.5" y="12">1400</text><text x="892.5" y="12">1200</text><text x="1111.5" y="12">1000</text><text x="1379.5" y="12">800</text><text x="1.5" y="152">300</text><text x="1.5" y="307">400</text><text x="1.5" y="427">500</text><text x="1.5" y="525">600</text><text x="1.5" y="607">700</text><text x="1.5" y="679">800</text><text x="1.5" y="742">900</text><text x="1.5" y="799">1000</text></g>
<g font-family='"Liberation Sans", sans-serif' font-size="13.5" letter-spacing="0.6"><text x="125.5" y="115" fill="#000">i</text><text x="146.5" y="174" fill="#000">i<tspan font-size="16.5" dy="1.9" letter-spacing="0">~</tspan></text><text x="213.5" y="250" fill="#000">I</text><text x="294.5" y="377" fill="#000">e</text><text x="307.5" y="377" fill="#000">e</text><text x="326.5" y="382" fill="#000">eU</text><text x="396.5" y="510" fill="#000">E</text><text x="409.5" y="592" fill="#000">eI</text><text x="464.5" y="584" fill="#000">E<tspan font-size="16.5" dy="1.9" letter-spacing="0">~</tspan></text><text x="628.5" y="456" fill="#000">@3</text><text x="677.5" y="510" fill="#707098">@</text><text x="676.5" y="520" fill="#707098">V</text><text x="677.5" y="530" fill="#000">@2</text><text x="677.5" y="540" fill="#707098">@/</text><text x="875.5" y="472" fill="#000">@</text><text x="874.5" y="482" fill="#000">V</text><text x="875.5" y="492" fill="#000">@/</text><text x="851.5" y="542" fill="#000" letter-spacing="-1.8">VU</text><text x="864.5" y="529" fill="#000" letter-spacing="-1.3">VI</text><text x="864.5" y="535" fill="#000" letter-spacing="-1.2">V<tspan font-size="16.5" dy="1.9" letter-spacing="0">~</tspan></text><text x="936.5" y="616" fill="#000">a</text><text x="957.5" y="646" fill="#000">aI</text><text x="967.5" y="625" fill="#000">aU</text><text x="978.5" y="566" fill="#000">a<tspan font-size="16.5" dy="1.9" letter-spacing="0">~</tspan></text><text x="1157.5" y="189" fill="#000">uI</text><text x="1181.5" y="584" fill="#000">O</text><text x="1240.5" y="200" fill="#000">u<tspan font-size="16.5" dy="1.9" letter-spacing="0">~</tspan></text><text x="1240.5" y="414" fill="#000">o</text><text x="1246.5" y="468" fill="#000">O<tspan font-size="16.5" dy="1.9" letter-spacing="0">~</tspan></text><text x="1289.5" y="392" fill="#000">oI</text><text x="1295.5" y="444" fill="#000">oU</text><text x="1323.5" y="368" fill="#000">o<tspan font-size="16.5" dy="1.9" letter-spacing="0">~</tspan></text><text x="1382.5" y="338" fill="#000">o:</text><text x="1475.5" y="187" fill="#000">u</text></g></svg>
</body></html>
